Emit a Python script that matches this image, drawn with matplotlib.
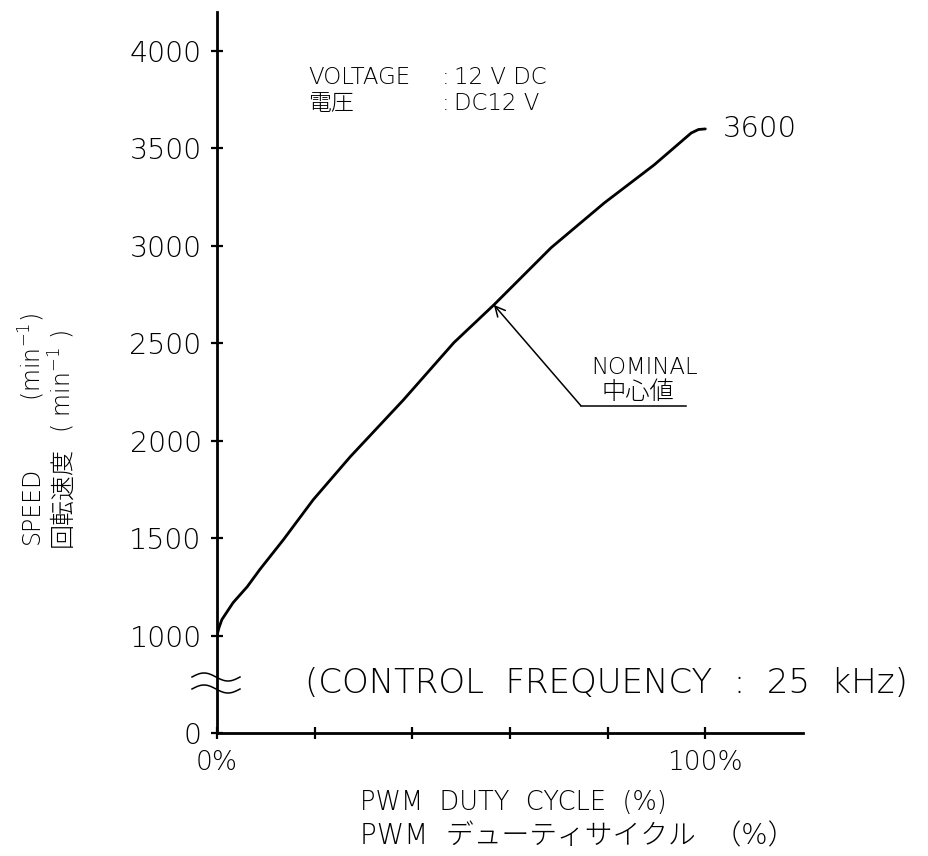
import numpy as np
import matplotlib
matplotlib.use('Agg')
import matplotlib.pyplot as plt

# duty cycle (%) vs speed (min-1)
duty = [0, 0.4, 1.0, 3.3, 6.2, 8.8, 13.6, 19.7, 27.3, 38.2, 48.5, 56.7, 68.4, 79.3, 89.5, 97.1, 98.6, 100]
speed = [1000, 1040, 1082, 1169, 1251, 1340, 1492, 1697, 1918, 2210, 2503, 2697, 2990, 3220, 3415, 3579, 3597, 3600]

y_ticks = [0, 1000, 1500, 2000, 2500, 3000, 3500, 4000]
x_ticks = [0, 20, 40, 60, 80, 100]
x_labels = ['0%', '', '', '', '', '100%']

FONT = ['DejaVu Sans', 'Noto Sans CJK JP']
plt.rcParams['font.family'] = FONT
plt.rcParams['font.weight'] = 'light'


# broken y axis: 0..1000 squeezed into the height of 500
def fwd(v):
    v = np.asarray(v, dtype=float)
    return np.where(v >= 1000, v - 500, v / 2)


def inv(u):
    u = np.asarray(u, dtype=float)
    return np.where(u >= 500, u + 500, u * 2)


fig = plt.figure(figsize=(9.29, 8.56), dpi=100)
ax = fig.add_axes([217 / 929, 1 - 733 / 856, (803 - 217) / 929, (733 - 12) / 856])
ax.set_yscale('function', functions=(fwd, inv))
ax.set_xlim(0, 120)
ax.set_ylim(0, 4200)

ax.plot(duty, speed, color='black', lw=2.0, solid_capstyle='round')

for s in ['top', 'right']:
    ax.spines[s].set_visible(False)
for s in ['left', 'bottom']:
    ax.spines[s].set_linewidth(2.0)

ax.set_yticks(y_ticks)
ax.set_yticklabels([str(t) for t in y_ticks])
ax.set_xticks(x_ticks)
ax.set_xticklabels(x_labels)
ax.tick_params(direction='inout', length=8, width=1.6, labelsize=20.5, pad=7)
ax.tick_params(axis='x', pad=8, labelsize=19)

# axis break marks
t = np.linspace(0, 1, 60)
wx = -25 / 586 + t * 48 / 586
for c in [677, 689]:
    wy = (733 - c) / 721 + 4 / 721 * np.sin(2 * np.pi * t)
    ax.plot(wx, wy, transform=ax.transAxes, color='black', lw=1.1, clip_on=False)

# annotations
ax.text(18.7, 3862, 'VOLTAGE', fontsize=16.5, va='center', ha='left')
ax.text(46.0, 3862, ':', fontsize=16.5, va='center', ha='left')
ax.text(48.6, 3862, '12 V DC', fontsize=16.5, va='center', ha='left')
ax.text(18.7, 3733, '電圧', fontsize=16.5, va='center', ha='left')
ax.text(46.0, 3733, ':', fontsize=16.5, va='center', ha='left')
ax.text(48.6, 3733, 'DC12 V', fontsize=16.5, va='center', ha='left')

ax.text(103.5, 3600, '3600', fontsize=21, va='center', ha='left')

ax.text(18.1, 512, '(CONTROL  FREQUENCY  :  25  kHz)', fontsize=24.5, va='center',
        ha='left', clip_on=False)

ax.annotate('', xy=(56.7, 2697), xytext=(74.5, 2180),
            arrowprops=dict(arrowstyle='->', lw=1.1, color='black', mutation_scale=18,
                            shrinkA=0, shrinkB=0))
ax.plot([74.5, 96.1], [2180, 2180], color='black', lw=1.1)
ax.text(76.6, 2374, 'NOMINAL', fontsize=16.5, va='center', ha='left')
ax.text(78.7, 2251, '中心値', fontsize=17.5, va='center', ha='left')

# axis titles
fig.text(360 / 929, 1 - 803 / 856, 'PWM  DUTY  CYCLE  (%)', fontsize=18.5, ha='left',
         va='center')
fig.text(360 / 929, 1 - 836 / 856, 'PWM  デューティサイクル  （%）', fontsize=20, ha='left',
         va='center')
fig.text(32 / 929, 1 - 505 / 856, 'SPEED', fontsize=17, rotation=90, ha='center',
         va='center')
fig.text(32 / 929, 1 - 357 / 856, '(min$^{-1}$)', fontsize=17, rotation=90, ha='center',
         va='center')
fig.text(62 / 929, 1 - 497 / 856, '回転速度', fontsize=18, rotation=90, ha='center',
         va='center')
fig.text(62 / 929, 1 - 382 / 856, '( min$^{-1}$ )', fontsize=17, rotation=90, ha='center',
         va='center')

fig.savefig('out.png', dpi=100)
